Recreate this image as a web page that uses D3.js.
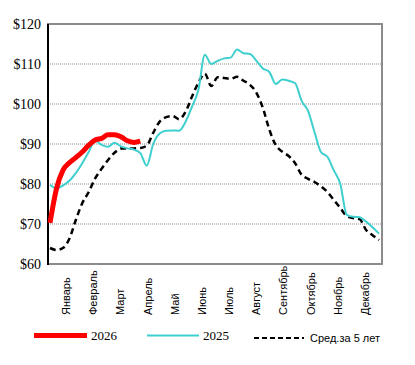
<!DOCTYPE html>
<html><head><meta charset="utf-8">
<script src="https://cdn.jsdelivr.net/npm/d3@7"></script>
<style>body{margin:0;background:#fff}svg{display:block}</style>
</head><body>
<svg id="c" width="415" height="365"></svg>
<script>
const months = ["Январь","Февраль","Март","Апрель","Май","Июнь","Июль","Август","Сентябрь","Октябрь","Ноябрь","Декабрь"];
const yTicks = [60,70,80,90,100,110,120];
const series2026 = [70.3,78.8,83.4,85.3,86.6,88.0,89.7,91.0,91.4,92.3,92.3,91.8,90.8,90.4,90.7];
const series2025 = [79.8,78.9,79.6,80.8,82.7,85.2,88.0,90.8,89.8,89.3,90.3,89.4,88.9,88.6,87.7,84.6,90.0,92.6,93.3,93.4,93.3,95.5,99.3,103.5,112.3,110.0,110.8,111.4,111.6,113.6,112.7,112.5,110.8,108.9,108.0,105.0,106.1,105.8,105.2,100.8,98.3,93.0,88.0,86.8,83.4,80.0,72.3,71.8,71.7,70.6,69.2,67.6];
const seriesAvg = [64.0,63.5,64.0,66.3,71.0,75.2,78.0,81.4,83.8,86.0,87.8,88.9,88.9,88.9,89.0,89.6,92.8,95.6,96.7,97.0,96.2,98.0,101.8,105.3,107.6,104.5,106.7,106.5,106.3,106.8,105.8,104.8,102.8,99.0,93.6,89.7,88.1,87.0,85.2,82.3,81.3,80.5,79.4,78.0,76.0,74.0,72.0,71.5,71.2,68.5,67.2,66.0];
const legendLabels = ["2026","2025","Сред.за 5 лет"];

const svg = d3.select("#c");
const L = 48, R = 382, T = 24, B = 264;
const y = d3.scaleLinear().domain([60,120]).range([B,T]);
const x = d3.scaleLinear().domain([0,51]).range([50,379]);
const xm = d3.scalePoint().domain(months).range([66,365]);

// gridlines
svg.append("g").selectAll("line").data(yTicks.filter(v=>v>60&&v<120)).join("line")
  .attr("x1",L).attr("x2",R).attr("y1",d=>y(d)).attr("y2",d=>y(d))
  .attr("stroke","#8a8a8a").attr("stroke-width",1).attr("stroke-dasharray","1,1");

// y labels
svg.append("g").selectAll("text").data(yTicks).join("text")
  .attr("x",41).attr("y",d=>y(d)).attr("dy","0.35em").attr("text-anchor","end")
  .attr("font-family","Liberation Serif").attr("font-size",14).attr("fill","#000")
  .text(d=>"$"+d);

// frame
svg.append("rect").attr("x",L).attr("y",T).attr("width",R-L).attr("height",B-T)
  .attr("fill","none").attr("stroke","#8c8c8c").attr("stroke-width",2);
svg.append("line").attr("x1",L).attr("x2",L).attr("y1",T).attr("y2",B+1)
  .attr("stroke","#000").attr("stroke-width",2);

// month labels
svg.append("g").selectAll("text").data(months).join("text")
  .attr("transform",d=>`translate(${xm(d)+4},315) rotate(-90)`)
  .attr("text-anchor","start")
  .attr("font-family","Liberation Sans").attr("font-size",11).attr("fill","#000")
  .text(d=>d);

const line = d3.line().x((d,i)=>x(i)).y(d=>y(d)).curve(d3.curveMonotoneX);

svg.append("path").datum(seriesAvg).attr("d",line).attr("fill","none")
  .attr("stroke","#000").attr("stroke-width",2.5).attr("stroke-dasharray","6,4");
svg.append("path").datum(series2025).attr("d",line).attr("fill","none")
  .attr("stroke","#3fcfcf").attr("stroke-width",2);
svg.append("path").datum(series2026).attr("d",line).attr("fill","none")
  .attr("stroke","#ff0000").attr("stroke-width",5).attr("stroke-linecap","butt");

// legend
const lg = svg.append("g");
lg.append("line").attr("x1",34).attr("x2",87).attr("y1",335.5).attr("y2",335.5)
  .attr("stroke","#ff0000").attr("stroke-width",5);
lg.append("text").attr("x",91).attr("y",340).attr("font-family","Liberation Serif")
  .attr("font-size",13).text(legendLabels[0]);
lg.append("line").attr("x1",147).attr("x2",199).attr("y1",335.5).attr("y2",335.5)
  .attr("stroke","#3fcfcf").attr("stroke-width",2);
lg.append("text").attr("x",203).attr("y",340).attr("font-family","Liberation Serif")
  .attr("font-size",13).text(legendLabels[1]);
lg.append("line").attr("x1",254).attr("x2",304).attr("y1",338).attr("y2",338)
  .attr("stroke","#000").attr("stroke-width",2).attr("stroke-dasharray","5,3");
lg.append("text").attr("x",310).attr("y",342).attr("font-family","Liberation Sans")
  .attr("font-size",11).text(legendLabels[2]);
</script>
</body></html>
